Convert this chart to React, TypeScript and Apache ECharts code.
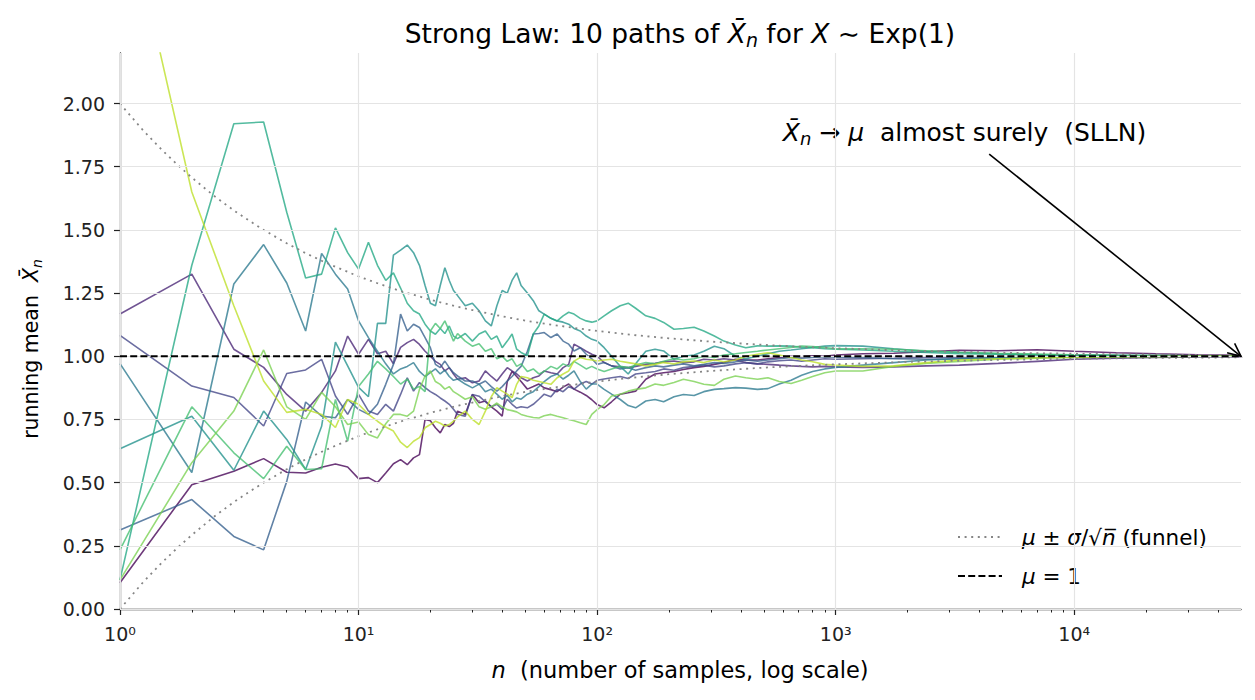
import React, { useEffect, useRef } from "react";
import * as echarts from "echarts";

// sample sizes (x grid, log scale)
const N = [
  1, 2, 3, 4, 5, 6, 7, 8, 9, 10,
  11, 12, 13, 14, 15, 16, 17, 18, 19, 20,
  21, 22, 23, 24, 25, 26,
  28, 30, 32, 34, 36, 38, 40, 42, 44, 46, 48,
  51, 54, 57, 60, 64, 68, 72, 76, 80, 85, 90, 95, 100,
  107, 115, 125, 135, 145, 160, 175, 190, 210, 230, 255, 280, 310, 340, 380, 420, 470, 520, 580, 650, 720, 800, 900, 1000,
  1300, 1750, 2400, 3300, 4800, 7000, 10000, 15000, 22000, 33000, 50000,
];

// running means of the 10 paths
const PATH_0 = [
  0.104, 0.492, 0.545, 0.595, 0.541, 0.538, 0.561, 0.574, 0.562, 0.516,
  0.520, 0.500, 0.538, 0.575, 0.591, 0.571, 0.598, 0.611, 0.750, 0.745,
  0.717, 0.697, 0.730, 0.722, 0.735, 0.783,
  0.770, 0.849, 0.816, 0.823, 0.800, 0.783, 0.763, 0.900, 0.940, 0.920, 0.900,
  0.870, 0.880, 0.890, 0.875, 0.868, 0.860, 0.878, 0.890, 0.870, 0.858, 0.845, 0.828, 0.809,
  0.796, 0.820, 0.850, 0.856, 0.862, 0.909, 0.930, 0.935, 0.940, 0.948, 0.955, 0.960, 0.968, 0.975, 0.988, 0.985, 0.985, 0.990, 0.995, 1.000, 0.998, 1.002, 1.000, 1.005,
  1.010, 1.012, 1.018, 1.024, 1.022, 1.026, 1.020, 1.014, 1.010, 1.006, 1.004,
];
const PATH_1 = [
  1.167, 1.325, 1.028, 0.956, 0.849, 0.783, 0.857, 0.942, 1.080, 1.008,
  1.067, 1.010, 1.020, 0.970, 1.035, 1.054, 1.067, 1.047, 1.020, 1.000,
  0.980, 0.968, 0.942, 0.955, 0.930, 0.909,
  0.915, 0.895, 0.902, 0.942, 0.920, 0.902, 0.930, 0.955, 0.942, 0.930, 0.915,
  0.902, 0.915, 0.922, 0.942, 0.935, 0.930, 0.955, 0.968, 1.048, 1.034, 1.020, 1.008, 1.000,
  0.975, 0.962, 0.958, 0.955, 0.960, 0.968, 0.972, 0.978, 0.981, 0.975, 0.978, 0.988, 0.985, 0.990, 0.985, 0.975, 0.970, 0.968, 0.965, 0.962, 0.960, 0.958, 0.960, 0.958,
  0.956, 0.958, 0.962, 0.965, 0.972, 0.980, 0.988, 0.992, 0.995, 0.997, 0.998,
];
const PATH_2 = [
  1.083, 0.882, 0.837, 0.724, 0.932, 0.946, 0.988, 0.843, 0.770, 0.849,
  0.783, 0.770, 0.810, 0.783, 0.849, 0.915, 0.862, 0.896, 0.876, 0.860,
  0.849, 0.835, 0.823, 0.810, 0.790, 0.770,
  0.763, 0.849, 0.842, 0.820, 0.800, 0.810, 0.790, 0.830, 0.810, 0.795, 0.800,
  0.796, 0.810, 0.830, 0.850, 0.840, 0.870, 0.860, 0.880, 0.870, 0.890, 0.900, 0.890, 0.905,
  0.910, 0.915, 0.920, 0.912, 0.930, 0.935, 0.940, 0.950, 0.945, 0.955, 0.960, 0.965, 0.958, 0.962, 0.970, 0.975, 0.970, 0.978, 0.982, 0.985, 0.980, 0.985, 0.990, 0.988,
  0.990, 0.992, 0.995, 0.996, 0.998, 1.000, 1.002, 1.003, 1.002, 1.001, 1.001,
];
const PATH_3 = [
  0.313, 0.433, 0.287, 0.234, 0.505, 0.819, 0.763, 0.757, 0.829, 0.790,
  0.770, 0.810, 0.889, 0.968, 1.167, 1.100, 1.127, 1.114, 1.074, 1.034,
  0.968, 0.955, 0.981, 0.955, 0.935, 0.922,
  0.902, 0.902, 0.889, 0.902, 0.880, 0.862, 0.880, 0.902, 0.920, 0.942, 0.960,
  1.020, 1.088, 1.090, 1.094, 1.074, 1.088, 1.060, 1.048, 1.021, 1.034, 1.008, 0.990, 0.968,
  0.975, 0.962, 0.950, 0.955, 0.945, 0.955, 0.962, 0.958, 0.965, 0.970, 0.962, 0.968, 0.975, 0.972, 0.978, 0.985, 0.980, 0.985, 0.990, 0.995, 0.992, 0.995, 0.998, 0.996,
  0.995, 0.990, 0.988, 0.990, 0.993, 0.995, 0.997, 0.998, 0.999, 1.000, 1.000,
];
const PATH_4 = [
  0.971, 0.540, 1.286, 1.442, 1.290, 1.100, 1.407, 1.325, 1.266, 1.140,
  1.074, 1.020, 0.970, 0.930, 0.950, 0.960, 0.975, 0.940, 0.920, 0.935,
  0.950, 0.930, 0.945, 0.920, 0.905, 0.910,
  0.890, 0.875, 0.890, 0.860, 0.870, 0.850, 0.830, 0.845, 0.820, 0.835, 0.830,
  0.850, 0.860, 0.880, 0.900, 0.920, 0.930, 0.910, 0.925, 0.942, 0.900, 0.870, 0.890, 0.890,
  0.869, 0.850, 0.829, 0.805, 0.796, 0.823, 0.829, 0.820, 0.840, 0.849, 0.845, 0.860, 0.869, 0.872, 0.876, 0.874, 0.869, 0.872, 0.890, 0.905, 0.925, 0.940, 0.950, 0.956,
  0.965, 0.975, 0.985, 0.990, 0.994, 0.997, 0.998, 0.999, 1.000, 1.000, 1.000,
];
const PATH_5 = [
  0.634, 0.763, 0.549, 0.783, 0.671, 0.552, 0.723, 1.056, 0.962, 0.877,
  0.840, 1.130, 1.130, 1.400, 1.420, 1.440, 1.410, 1.360, 1.280, 1.210,
  1.200, 1.280, 1.350, 1.300, 1.260, 1.240,
  1.200, 1.210, 1.180, 1.140, 1.120, 1.200, 1.260, 1.250, 1.300, 1.330, 1.280,
  1.250, 1.220, 1.180, 1.167, 1.150, 1.140, 1.135, 1.127, 1.110, 1.100, 1.080, 1.067, 1.060,
  1.034, 1.000, 0.960, 0.930, 0.970, 1.020, 1.028, 1.021, 0.988, 1.000, 1.005, 1.020, 1.040, 1.030, 1.000, 0.990, 1.000, 1.010, 1.020, 1.025, 1.030, 1.035, 1.040, 1.042,
  1.040, 1.030, 1.020, 1.015, 1.010, 1.006, 1.005, 1.003, 1.002, 1.002, 1.001,
];
const PATH_6 = [
  0.115, 1.360, 1.920, 1.927, 1.570, 1.310, 1.325, 1.508, 1.410, 1.345,
  1.451, 1.360, 1.300, 1.330, 1.270, 1.210, 1.180, 1.167, 1.127, 1.100,
  1.087, 1.110, 1.090, 1.120, 1.080, 1.070,
  1.090, 1.060, 1.088, 1.100, 1.067, 1.080, 1.034, 1.060, 1.088, 1.028, 1.015,
  1.002, 1.088, 1.120, 1.167, 1.150, 1.140, 1.160, 1.174, 1.167, 1.150, 1.140, 1.135, 1.140,
  1.160, 1.180, 1.200, 1.210, 1.190, 1.160, 1.150, 1.134, 1.107, 1.110, 1.115, 1.100, 1.080, 1.060, 1.045, 1.034, 1.041, 1.040, 1.041, 1.040, 1.036, 1.034, 1.030, 1.028,
  1.025, 1.020, 1.015, 1.010, 1.008, 1.006, 1.004, 1.004, 1.003, 1.002, 1.002,
];
const PATH_7 = [
  0.234, 0.800, 0.618, 0.516, 0.644, 0.552, 0.555, 0.829, 0.664, 0.880,
  0.930, 0.980, 0.950, 0.920, 0.890, 0.910, 0.870, 0.880, 0.860, 1.100,
  1.130, 1.110, 1.140, 1.100, 1.060, 1.090,
  1.060, 1.040, 1.050, 1.020, 1.030, 0.990, 1.000, 0.980, 0.990, 0.960, 0.970,
  0.940, 0.950, 0.930, 0.940, 0.960, 0.950, 0.970, 0.960, 0.980, 0.965, 0.950, 0.960, 0.950,
  0.940, 0.950, 0.960, 0.955, 0.965, 0.975, 0.970, 0.980, 0.990, 0.985, 0.990, 1.000, 0.995, 1.005, 1.010, 1.015, 1.020, 1.025, 1.030, 1.035, 1.040, 1.038, 1.035, 1.030,
  1.030, 1.028, 1.022, 1.016, 1.012, 1.009, 1.006, 1.004, 1.003, 1.002, 1.002,
];
const PATH_8 = [
  0.115, 0.579, 0.783, 1.025, 0.800, 0.750, 0.857, 0.800, 0.730, 0.740,
  0.690, 0.677, 0.733, 0.770, 0.770, 0.763, 0.783, 0.869, 0.922, 0.942,
  0.900, 0.889, 0.870, 0.880, 0.860, 0.850,
  0.830, 0.840, 0.800, 0.790, 0.800, 0.815, 0.800, 0.789, 0.785, 0.780, 0.770,
  0.763, 0.758, 0.756, 0.765, 0.770, 0.763, 0.757, 0.750, 0.745, 0.737, 0.730, 0.770, 0.789,
  0.809, 0.843, 0.850, 0.862, 0.869, 0.875, 0.890, 0.885, 0.896, 0.909, 0.900, 0.889, 0.885, 0.909, 0.922, 0.915, 0.909, 0.915, 0.900, 0.892, 0.905, 0.920, 0.935, 0.942,
  0.942, 0.960, 0.972, 0.980, 0.988, 0.992, 0.995, 0.997, 0.998, 0.999, 1.000,
];
const PATH_9 = [
  2.900, 1.650, 1.200, 0.902, 0.778, 0.790, 0.770, 0.718, 0.829, 0.810,
  0.770, 0.743, 0.720, 0.704, 0.660, 0.639, 0.664, 0.678, 0.717, 0.730,
  0.743, 0.735, 0.724, 0.730, 0.743, 0.760,
  0.783, 0.750, 0.730, 0.783, 0.840, 0.876, 0.862, 0.850, 0.836, 0.889, 0.920,
  0.915, 0.905, 0.900, 0.895, 0.889, 0.915, 0.930, 0.942, 0.981, 0.995, 0.988, 0.985, 0.981,
  0.985, 0.988, 0.980, 0.975, 0.970, 0.962, 0.968, 0.975, 0.970, 0.978, 0.981, 0.975, 0.985, 0.978, 0.985, 1.000, 1.008, 1.014, 1.005, 0.995, 0.985, 0.978, 0.968, 0.965,
  0.960, 0.962, 0.975, 0.985, 0.990, 0.994, 0.996, 0.998, 0.999, 1.000, 1.000,
];
const PATHS = [PATH_0, PATH_1, PATH_2, PATH_3, PATH_4, PATH_5, PATH_6, PATH_7, PATH_8, PATH_9];

// funnel mu +/- sigma/sqrt(n)
const FUNNEL_N = [1, 1.25, 1.5, 1.75, 2, 2.5, 3, 3.5, 4, 5, 6, 7, 8, 10, 12, 15, 20, 25, 30, 40, 50, 70, 100, 150, 200, 300, 500, 700, 1000, 2000, 5000, 10000, 20000, 50000];
const FUNNEL_UP = [2.0, 1.894, 1.816, 1.756, 1.707, 1.632, 1.577, 1.535, 1.5, 1.447, 1.408, 1.378, 1.354, 1.316, 1.289, 1.258, 1.224, 1.2, 1.183, 1.158, 1.141, 1.12, 1.1, 1.082, 1.071, 1.058, 1.045, 1.038, 1.032, 1.022, 1.014, 1.01, 1.007, 1.004];
const FUNNEL_LO = [0.0, 0.106, 0.184, 0.244, 0.293, 0.368, 0.423, 0.465, 0.5, 0.553, 0.592, 0.622, 0.646, 0.684, 0.711, 0.742, 0.776, 0.8, 0.817, 0.842, 0.859, 0.88, 0.9, 0.918, 0.929, 0.942, 0.955, 0.962, 0.968, 0.978, 0.986, 0.99, 0.993, 0.996];

const MU = 1;
const X_MIN = 1;
const X_MAX = 50000;
const Y_MIN = 0;
const Y_MAX = 2.2;
const Y_TICKS = [0, 0.25, 0.5, 0.75, 1.0, 1.25, 1.5, 1.75, 2.0];
const X_DECADES = [1, 10, 100, 1000, 10000];
const X_MINOR = [2, 3, 4, 5, 6, 7, 8, 9, 20, 30, 40, 50, 60, 70, 80, 90, 200, 300, 400, 500, 600, 700, 800, 900, 2000, 3000, 4000, 5000, 6000, 7000, 8000, 9000, 20000, 30000, 40000];
const ANNOT_TEXT_AT = [600, 1.885];
const ANNOT_ARROW_FROM = [4400, 1.8];
const ANNOT_ARROW_TO = [50000, 1.0];

const COLORS = ["#440154", "#482475", "#414487", "#355f8d", "#2a788e", "#21918c", "#22a884", "#44bf70", "#7ad151", "#bddf26"];

const FONT = "DejaVu Sans";
const SUP = ["\u2070", "\u00b9", "\u00b2", "\u00b3", "\u2074", "\u2075"];

const richFor = (size: number, lh: number) => ({
  r: { fontFamily: FONT, fontSize: size, lineHeight: lh, fill: "#000" },
  i: { fontFamily: FONT, fontSize: size, fontStyle: "italic", lineHeight: lh, fill: "#000" },
  sub: { fontFamily: FONT, fontSize: Math.round(size * 0.7), fontStyle: "italic", lineHeight: Math.round(size * 0.7), verticalAlign: "bottom", fill: "#000" },
});

export default function App() {
  const ref = useRef<HTMLDivElement>(null);
  useEffect(() => {
    if (!ref.current) return;
    const chart = echarts.init(ref.current, null, { renderer: "svg" });

    const pathSeries = PATHS.map((vals, k) => ({
      type: "line",
      name: "path" + k,
      data: N.map((n, i) => [n, vals[i]]),
      showSymbol: false,
      symbol: "none",
      silent: true,
      z: 3,
      lineStyle: { color: COLORS[k], width: 1.6, opacity: 0.78 },
    }));

    const option: any = {
      animation: false,
      backgroundColor: "#fff",
      grid: { left: 120, right: 14, top: 53, bottom: 91, containLabel: false },
      xAxis: [
        {
          type: "log",
          logBase: 10,
          min: X_MIN,
          max: X_MAX,
          position: "bottom",
          axisLine: { show: true, lineStyle: { color: "#222", width: 1.3 } },
          axisTick: { show: true, length: 6, customValues: X_DECADES, lineStyle: { color: "#222", width: 1.2 } },
          axisLabel: {
            customValues: X_DECADES,
            margin: 15,
            color: "#222",
            fontFamily: FONT,
            fontSize: 19,
            formatter: (v: number) => {
              const e = Math.round(Math.log10(v));
              if (Math.abs(Math.log10(v) - e) > 1e-6) return "";
              return "10" + SUP[e];
            },
          },
          splitLine: { show: false },
        },
        {
          type: "log",
          logBase: 10,
          min: X_MIN,
          max: X_MAX,
          position: "bottom",
          axisLine: { show: false },
          axisTick: { show: true, length: 3.5, customValues: X_MINOR, lineStyle: { color: "#222", width: 1 } },
          axisLabel: { show: false },
          splitLine: { show: false },
        },
      ],
      yAxis: {
        type: "value",
        min: Y_MIN,
        max: Y_MAX,
        interval: 0.25,
        axisLine: { show: true, lineStyle: { color: "#222", width: 1.3 } },
        axisTick: { show: true, length: 6, customValues: Y_TICKS, lineStyle: { color: "#222", width: 1.2 } },
        axisLabel: {
          customValues: Y_TICKS,
          margin: 15,
          color: "#222",
          fontFamily: FONT,
          fontSize: 19,
          formatter: (v: number) => (v > 2.01 ? "" : v.toFixed(2)),
        },
        splitLine: { show: false },
      },
      series: [
        {
          type: "line",
          name: "grid",
          data: [],
          silent: true,
          z: 1,
          markLine: {
            silent: true,
            symbol: "none",
            animation: false,
            label: { show: false },
            lineStyle: { color: "#e4e4e4", width: 1.2, type: "solid" },
            data: [
              ...Y_TICKS.map((v) => ({ yAxis: v })),
              ...X_DECADES.map((v) => ({ xAxis: v })),
            ],
          },
        },
        ...pathSeries,
        {
          type: "line",
          name: "funnel_up",
          data: FUNNEL_N.map((n, i) => [n, FUNNEL_UP[i]]),
          showSymbol: false,
          symbol: "none",
          silent: true,
          z: 4,
          lineStyle: { color: "#858585", width: 1.8, type: [2, 4.6] },
        },
        {
          type: "line",
          name: "funnel_lo",
          data: FUNNEL_N.map((n, i) => [n, FUNNEL_LO[i]]),
          showSymbol: false,
          symbol: "none",
          silent: true,
          z: 4,
          lineStyle: { color: "#858585", width: 1.8, type: [2, 4.6] },
        },
        {
          type: "line",
          name: "mu",
          data: [[X_MIN, MU], [X_MAX, MU]],
          showSymbol: false,
          symbol: "none",
          silent: true,
          z: 5,
          lineStyle: { color: "#000", width: 2.2, type: [7, 3.2] },
        },
      ],
    };
    chart.setOption(option);

    const conv = (p: number[]) => chart.convertToPixel({ xAxisIndex: 0, yAxisIndex: 0 }, p) as number[];
    const tPos = conv(ANNOT_TEXT_AT);
    const a0 = conv(ANNOT_ARROW_FROM);
    const a1 = conv(ANNOT_ARROW_TO);
    const dx = a1[0] - a0[0];
    const dy = a1[1] - a0[1];
    const len = Math.sqrt(dx * dx + dy * dy);
    const ux = dx / len;
    const uy = dy / len;
    const hl = 13;
    const hw = 6;
    const h1 = [a1[0] - ux * hl - uy * hw, a1[1] - uy * hl + ux * hw];
    const h2 = [a1[0] - ux * hl + uy * hw, a1[1] - uy * hl - ux * hw];

    const titleRich = richFor(26.5, 32);
    const annRich = richFor(25, 30);
    const xLabRich = richFor(22.5, 27);
    const yLabRich = richFor(20.5, 25);
    const legRich = richFor(21.5, 26);

    chart.setOption({
      graphic: [
        {
          type: "text",
          x: 680,
          y: 33,
          style: {
            text: "{r|Strong Law: 10 paths of }{i|X\u0304}{sub|n}{r| for }{i|X}{r| \u223c Exp(1)}",
            rich: titleRich,
            align: "center",
            verticalAlign: "middle",
            fill: "#000",
          },
        },
        {
          type: "text",
          x: 680,
          y: 670,
          style: {
            text: "{i|n}{r|  (number of samples, log scale)}",
            rich: xLabRich,
            align: "center",
            verticalAlign: "middle",
            fill: "#000",
          },
        },
        {
          type: "text",
          x: 31,
          y: 349,
          rotation: Math.PI / 2,
          style: {
            text: "{r|running mean  }{i|X\u0304}{sub|n}",
            rich: yLabRich,
            align: "center",
            verticalAlign: "middle",
            fill: "#000",
          },
        },
        {
          type: "text",
          x: tPos[0],
          y: tPos[1],
          style: {
            text: "{i|X\u0304}{sub|n}{r| \u2192 }{i|\u03bc}{r|  almost surely  (SLLN)}",
            rich: annRich,
            align: "left",
            verticalAlign: "middle",
            fill: "#000",
          },
        },
        {
          type: "line",
          shape: { x1: a0[0], y1: a0[1], x2: a1[0], y2: a1[1] },
          style: { stroke: "#000", lineWidth: 1.6 },
          z: 100,
        },
        {
          type: "polyline",
          shape: { points: [h1, a1, h2] },
          style: { stroke: "#000", lineWidth: 1.6, fill: null },
          z: 100,
        },
        // legend
        {
          type: "line",
          shape: { x1: 958, y1: 537, x2: 1002, y2: 537 },
          style: { stroke: "#858585", lineWidth: 1.8, lineDash: [2, 4.6] },
        },
        {
          type: "text",
          x: 1022,
          y: 537,
          style: {
            text: "{i|\u03bc}{r| \u00b1 }{i|\u03c3}{r|/\u221a}{i|n\u0305}{r| (funnel)}",
            rich: legRich,
            align: "left",
            verticalAlign: "middle",
            fill: "#000",
          },
        },
        {
          type: "line",
          shape: { x1: 958, y1: 576, x2: 1002, y2: 576 },
          style: { stroke: "#000", lineWidth: 2.2, lineDash: [7, 3.2] },
        },
        {
          type: "text",
          x: 1022,
          y: 576,
          style: {
            text: "{i|\u03bc}{r| = 1}",
            rich: legRich,
            align: "left",
            verticalAlign: "middle",
            fill: "#000",
          },
        },
      ],
    });

    return () => chart.dispose();
  }, []);

  return (
    <div
      ref={ref}
      style={{ position: "absolute", left: 0, top: 0, width: 1255, height: 700, background: "#fff" }}
    />
  );
}
